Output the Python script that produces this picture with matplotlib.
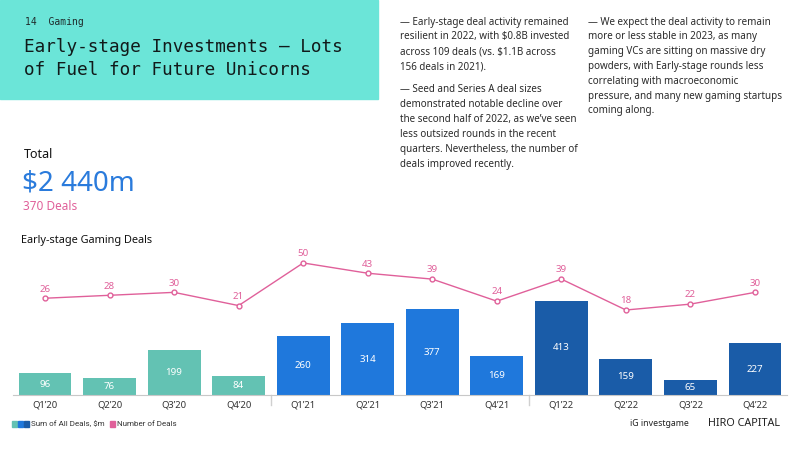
import matplotlib.pyplot as plt
import numpy as np

quarters = ["Q1’20", "Q2’20", "Q3’20", "Q4’20", "Q1’21", "Q2’21",
            "Q3’21", "Q4’21", "Q1’22", "Q2’22", "Q3’22", "Q4’22"]
sum_deals = [96, 76, 199, 84, 260, 314, 377, 169, 413, 159, 65, 227]
num_deals = [26, 28, 30, 21, 50, 43, 39, 24, 39, 18, 22, 30]
years = [2020] * 4 + [2021] * 4 + [2022] * 4

left_para1 = ["— Early-stage deal activity remained",
              "resilient in 2022, with $0.8B invested",
              "across 109 deals (vs. $1.1B across",
              "156 deals in 2021)."]
left_para2 = ["— Seed and Series A deal sizes",
              "demonstrated notable decline over",
              "the second half of 2022, as we’ve seen",
              "less outsized rounds in the recent",
              "quarters. Nevertheless, the number of",
              "deals improved recently."]
right_col = ["— We expect the deal activity to remain",
             "more or less stable in 2023, as many",
             "gaming VCs are sitting on massive dry",
             "powders, with Early-stage rounds less",
             "correlating with macroeconomic",
             "pressure, and many new gaming startups",
             "coming along."]

year_colors = {2020: "#63c2b3", 2021: "#1f78dc", 2022: "#1a5ca8"}
pink = "#e0609a"
sans = ["Noto Sans", "DejaVu Sans"]
narrow = ["Roboto", "DejaVu Sans"]
mono = ["DejaVu Sans Mono"]

W, H = 800, 450
fig = plt.figure(figsize=(8, 4.5), dpi=100)

def fx(px):
    return px / W

def fy(py):
    return 1 - py / H

# header box
fig.patches.append(plt.Rectangle((0, fy(99)), fx(378), 99 / H,
                                 transform=fig.transFigure, color="#6be5d8", zorder=0))
fig.text(fx(25), fy(22), "14  Gaming", family=mono, fontsize=7, color="#1f2a2a", va="center")
fig.text(fx(24), fy(47), "Early-stage Investments — Lots", family=mono, fontsize=12.7,
         color="#111a1a", va="center")
fig.text(fx(24), fy(70), "of Fuel for Future Unicorns", family=mono, fontsize=12.7,
         color="#111a1a", va="center")

for i, line in enumerate(left_para1):
    fig.text(fx(400), fy(22 + i * 15), line, family=sans, fontsize=7.1, color="#2a2a2a", va="center")
for i, line in enumerate(left_para2):
    fig.text(fx(400), fy(90 + i * 14.8), line, family=sans, fontsize=7.1, color="#2a2a2a", va="center")
for i, line in enumerate(right_col):
    fig.text(fx(588), fy(22 + i * 14.8), line, family=sans, fontsize=7.1, color="#2a2a2a", va="center")

fig.text(fx(24), fy(155), "Total", family=sans, fontsize=9, color="#111", va="center", weight="medium")
fig.text(fx(22), fy(183), "$2 440m", family=sans, fontsize=20, color="#2a7bdc", va="center")
fig.text(fx(23), fy(207), "370 Deals", family=sans, fontsize=8.5, color=pink, va="center")
fig.text(fx(21), fy(240), "Early-stage Gaming Deals", family=sans, fontsize=7.9, color="#111",
         va="center", weight="medium")

# bar axes
ax = fig.add_axes([fx(12.7), fy(395), fx(787.3 - 12.7), 155 / H])
x = np.arange(len(quarters))
colors = [year_colors[y] for y in years]
ax.bar(x, sum_deals, width=0.82, color=colors, zorder=2)
for xi, v in zip(x, sum_deals):
    ax.text(xi, v / 2, str(v), ha="center", va="center", color="white", fontsize=7, family=sans)
ax.set_xlim(-0.5, 11.5)
ax.set_ylim(0, 680)
ax.set_yticks([])
ax.set_xticks(x)
ax.set_xticklabels(quarters, family=sans, fontsize=6.8, color="#333")
ax.tick_params(axis="x", length=0, pad=4)
for s in ["top", "left", "right"]:
    ax.spines[s].set_visible(False)
ax.spines["bottom"].set_color("#c8c8c8")
ax.patch.set_alpha(0)
for sep in [3.5, 7.5]:
    ax.plot([sep, sep], [0, -0.065], transform=ax.get_xaxis_transform(),
            color="#d0d0d0", lw=1, clip_on=False)

# line axes
ax2 = ax.twinx()
ax2.plot(x, num_deals, color=pink, lw=1, marker="o", ms=3.5, mfc="white", mec=pink, mew=1, zorder=3)
for xi, v in zip(x, num_deals):
    ax2.text(xi, v + 3.2, str(v), ha="center", va="bottom", color=pink, fontsize=7, family=sans)
ax2.set_ylim(-39.8, 65.6)
ax2.axis("off")

# legend
ly = fy(424)
for i, c in enumerate([year_colors[2020], year_colors[2021], year_colors[2022]]):
    fig.patches.append(plt.Rectangle((fx(12 + i * 6), ly - 2.5 / H), 5 / W, 6 / H,
                                     transform=fig.transFigure, color=c))
t1 = fig.text(fx(31), ly + 0.5 / H, "Sum of All Deals, $m", family=narrow, fontsize=5.8,
              color="#333", va="center")
r = fig.canvas.get_renderer()
end = t1.get_window_extent(r).x1
fig.patches.append(plt.Rectangle((fx(end + 5), ly - 2.5 / H), 5 / W, 6 / H,
                                 transform=fig.transFigure, color=pink))
fig.text(fx(end + 12), ly + 0.5 / H, "Number of Deals", family=narrow, fontsize=5.8,
         color="#333", va="center")

fig.text(fx(630), ly + 0.5 / H, "iG investgame", family=sans, fontsize=6.3, color="#222",
         va="center", weight="bold")
fig.text(fx(708), ly + 0.5 / H, "HIRO CAPITAL", family=sans, fontsize=7.8, color="#222",
         va="center", weight="bold")

fig.savefig("out.png", dpi=100)
